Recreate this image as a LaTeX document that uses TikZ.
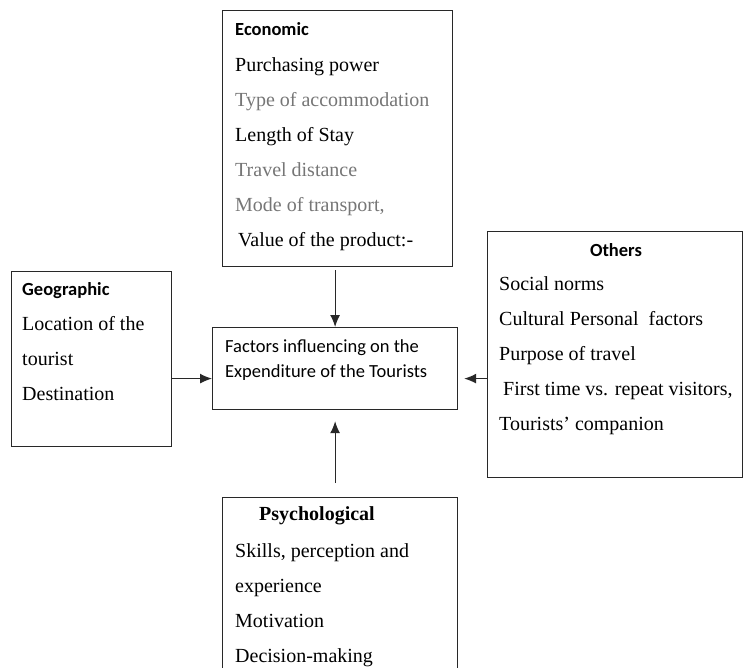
\documentclass[tikz,border=0pt]{standalone}
\usepackage{fontspec}
\setmainfont{Liberation Serif}
\newfontfamily\calibri{Carlito}
\usetikzlibrary{arrows.meta}

\definecolor{fadedtext}{RGB}{118,118,118}
\definecolor{boxline}{RGB}{40,40,40}

\tikzset{
  box/.style={draw=boxline, line width=1.2pt, inner sep=0pt, anchor=north west},
  head/.style={font=\calibri\bfseries\fontsize{18.5}{22}\selectfont, inner sep=0pt, anchor=base west},
  item/.style={font=\fontsize{20}{35}\selectfont, align=left, inner sep=0pt, anchor=north west},
  arr/.style={-{Latex[length=12pt,width=10pt]}, line width=1.2pt, draw=boxline}
}

\begin{document}
\begin{tikzpicture}[x=1pt, y=-1pt]
  \clip (0,0) rectangle (743,667);

  % the five boxes
  \node[box, minimum width=230pt, minimum height=256pt] (econ) at (222,10) {};
  \node[box, minimum width=160pt, minimum height=175pt] (geo) at (11,271) {};
  \node[box, minimum width=245pt, minimum height=82pt] (factors) at (212,327) {};
  \node[box, minimum width=255pt, minimum height=246pt] (others) at (487,231) {};
  \node[box, minimum width=235pt, minimum height=210pt] (psych) at (222,497) {};

  % economic
  \node[head] (econ-head) at (235,35) {Economic};
  \node[item] (econ-list) at (235,56) {\rule{0pt}{15pt}Purchasing power\\
    \textcolor{fadedtext}{Type of accommodation}\\
    Length of Stay\\
    \textcolor{fadedtext}{Travel distance}\\
    \textcolor{fadedtext}{Mode of transport,}\\
    \hspace{3pt}Value of the product:-};

  % geographic
  \node[head] (geo-head) at (22,295) {Geographic};
  \node[item] (geo-list) at (22,315) {\rule{0pt}{15pt}Location of the\\
    tourist\\
    Destination};

  % centre
  \node[item, font=\calibri\fontsize{18.5}{25}\selectfont] (factors-text) at (225,337)
    {\rule{0pt}{15pt}Factors influencing on the\\Expenditure of the Tourists};

  % others
  \node[head, anchor=base] (others-head) at (616,256) {Others};
  \node[item] (others-list) at (499,275) {\rule{0pt}{15pt}Social norms\\
    Cultural Personal~ factors\\
    Purpose of travel\\
    \hspace{4pt}First time vs. repeat visitors,\\
    Tourists’ companion};

  % psychological
  \node[head, font=\bfseries\fontsize{20}{24}\selectfont] (psych-head) at (259,520) {Psychological};
  \node[item] (psych-list) at (235,542) {\rule{0pt}{15pt}Skills, perception and\\
    experience\\
    Motivation\\
    Decision-making};

  % arrows
  \draw[arr, shorten <=3pt] (factors.north |- econ.south) -- (factors.north);
  \draw[arr] ([yshift=-10pt]factors.west -| geo.east) -- ([yshift=-10pt]factors.west);
  \draw[arr, shorten >=6pt] ([yshift=-10pt]factors.east -| others.west) -- ([yshift=-10pt]factors.east);
  \draw[arr, shorten <=14pt, shorten >=11pt] (factors.south |- psych.north) -- (factors.south);
\end{tikzpicture}
\end{document}
